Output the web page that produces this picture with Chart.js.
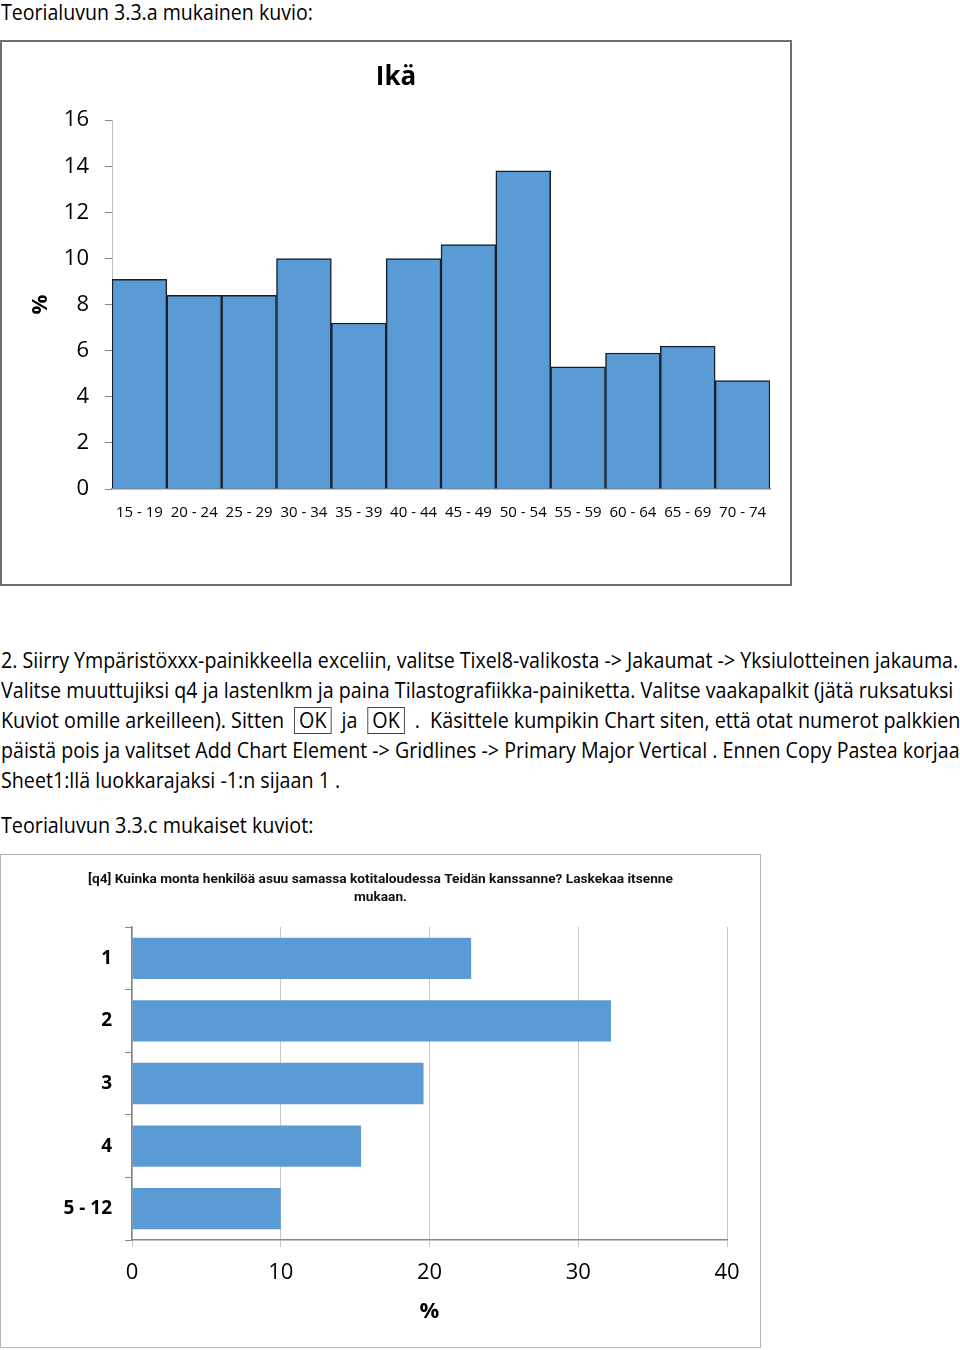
<!DOCTYPE html>
<html>
<head>
<meta charset="utf-8">
<script src="https://cdn.jsdelivr.net/npm/chart.js@4.4.0/dist/chart.umd.min.js"></script>
<style>
  body { margin: 0; background: #fff; width: 960px; height: 1350px; position: relative; overflow: hidden;
         font-family: "Open Sans", sans-serif; color: #000; }
  .line { position: absolute; left: 1px; white-space: nowrap; font-size: 21px; line-height: 28px;
          transform-origin: 0 50%; }
  .ok { display: inline-block; border: 1px solid #444; padding: 0 4px; line-height: 25px; }
  #box1 { position: absolute; left: 0px; top: 40px; width: 788px; height: 542px; border: 2px solid #6e6e6e; }
  #box2 { position: absolute; left: 0px; top: 854px; width: 759px; height: 492px; border: 1px solid #b5b5b5; }
  canvas { display: block; }
</style>
</head>
<body>
<div class="line" data-w="312" style="top:-2px">Teorialuvun 3.3.a mukainen kuvio:</div>

<div id="box1"><canvas id="ageChart" width="788" height="542"></canvas></div>

<div class="line" data-w="957" style="top:646px">2. Siirry Ympäristöxxx-painikkeella exceliin, valitse Tixel8-valikosta -&gt; Jakaumat -&gt; Yksiulotteinen jakauma.</div>
<div class="line" data-w="952" style="top:676px">Valitse muuttujiksi q4 ja lastenlkm ja paina Tilastografiikka-painiketta. Valitse vaakapalkit (jätä ruksatuksi</div>
<div class="line" data-w="959" style="top:706px">Kuviot omille arkeilleen). Sitten &nbsp;<span class="ok">OK</span>&nbsp; ja &nbsp;<span class="ok">OK</span>&nbsp; . &nbsp;Käsittele kumpikin Chart siten, että otat numerot palkkien</div>
<div class="line" data-w="959" style="top:736px">päistä pois ja valitset Add Chart Element -&gt; Gridlines -&gt; Primary Major Vertical . Ennen Copy Pastea korjaa</div>
<div class="line" data-w="339" style="top:766px">Sheet1:llä luokkarajaksi -1:n sijaan 1 .</div>

<div class="line" data-w="312" style="top:811px">Teorialuvun 3.3.c mukaiset kuviot:</div>

<div id="box2"><canvas id="hhChart" width="759" height="492"></canvas></div>

<script>
// squeeze text lines to the widths in the picture (Calibri is narrower)
document.querySelectorAll('.line').forEach(function (el) {
    var w = +el.dataset.w;
    var s = w / el.scrollWidth;
    el.style.transform = 'scaleX(' + s + ')';
});

const ageLabels = ['15 - 19', '20 - 24', '25 - 29', '30 - 34', '35 - 39', '40 - 44',
                   '45 - 49', '50 - 54', '55 - 59', '60 - 64', '65 - 69', '70 - 74'];
const agePercent = [9.1, 8.4, 8.4, 10.0, 7.2, 10.0, 10.6, 13.8, 5.3, 5.9, 6.2, 4.7];

const hhLabels = ['1', '2', '3', '4', '5 - 12'];
const hhPercent = [22.8, 32.2, 19.6, 15.4, 10.0];

const FONT = '"Open Sans", sans-serif';
const axisGray = '#868686';

new Chart(document.getElementById('ageChart'), {
    type: 'bar',
    data: {
        labels: ageLabels,
        datasets: [{
            data: agePercent,
            backgroundColor: '#5b9bd5',
            borderColor: '#15202e',
            borderWidth: 1.5,
            barPercentage: 1,
            categoryPercentage: 1
        }]
    },
    options: {
        animation: false,
        responsive: false,
        layout: { padding: { left: 20, right: 20, top: 0, bottom: 0 } },
        plugins: {
            legend: { display: false },
            tooltip: { enabled: false },
            title: {
                display: true,
                text: 'Ikä',
                color: '#000',
                font: { family: FONT, size: 26, weight: 'bold' },
                padding: { top: 20, bottom: 27 }
            }
        },
        scales: {
            x: {
                grid: { display: false, drawTicks: false },
                border: { display: true, color: axisGray, width: 1.5 },
                ticks: {
                    color: '#000', font: { family: FONT, size: 15 },
                    padding: 15, maxRotation: 0, minRotation: 0, autoSkip: false
                },
                afterFit: function (s) { s.height = 95; }
            },
            y: {
                min: 0, max: 16,
                grid: { drawOnChartArea: false, color: axisGray, tickLength: 7 },
                border: { display: true, color: '#bfbfbf', width: 1 },
                ticks: { stepSize: 2, color: '#000', font: { family: FONT, size: 22 }, padding: 16 },
                title: {
                    display: true, text: '%', color: '#000',
                    font: { family: FONT, size: 22, weight: 'bold' },
                    padding: { top: 6, bottom: 0 }
                },
                afterFit: function (s) { s.width = 90; }
            }
        }
    }
});

new Chart(document.getElementById('hhChart'), {
    type: 'bar',
    data: {
        labels: hhLabels,
        datasets: [{
            data: hhPercent,
            backgroundColor: '#5b9bd5',
            borderWidth: 0,
            barPercentage: 0.66,
            categoryPercentage: 1
        }]
    },
    options: {
        indexAxis: 'y',
        animation: false,
        responsive: false,
        layout: { padding: { left: 33, right: 33, top: 0, bottom: 0 } },
        plugins: {
            legend: { display: false },
            tooltip: { enabled: false },
            title: {
                display: true,
                text: ['[q4] Kuinka monta henkilöä asuu samassa kotitaloudessa Teidän kanssanne? Laskekaa itsenne', 'mukaan.'],
                color: '#111',
                font: { family: 'Roboto, sans-serif', size: 13.7, weight: 'bold', lineHeight: '18px' },
                padding: { top: 16, bottom: 20 }
            }
        },
        scales: {
            x: {
                min: 0, max: 40,
                grid: { color: '#c8c8c8', tickLength: 7 },
                border: { display: true, color: axisGray, width: 1.5 },
                ticks: { stepSize: 10, color: '#000', font: { family: FONT, size: 22 }, padding: 13 },
                title: {
                    display: true, text: '%', color: '#000',
                    font: { family: FONT, size: 22, weight: 'bold' },
                    padding: { top: 0, bottom: 22 }
                },
                afterFit: function (s) { s.height = 107; }
            },
            y: {
                grid: { drawOnChartArea: false, color: axisGray, tickLength: 7 },
                border: { display: true, color: axisGray, width: 1.5 },
                ticks: { color: '#000', font: { family: FONT, size: 19, weight: 'bold' }, padding: 13 },
                afterFit: function (s) { s.width = 98; }
            }
        }
    }
});
</script>
</body>
</html>
